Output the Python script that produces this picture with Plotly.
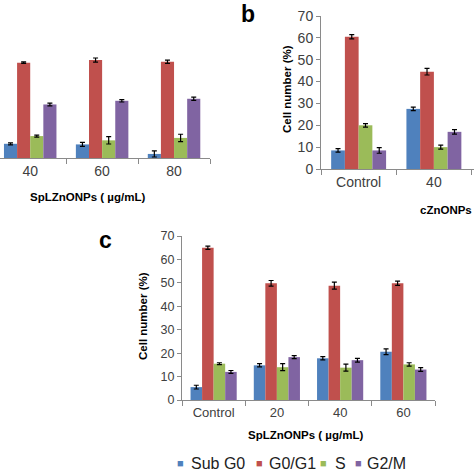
import plotly.graph_objects as go

phases = ["Sub G0", "G0/G1", "S", "G2/M"]
colors = ["#4F81BD", "#C0504D", "#9BBB59", "#8064A2"]

# Panel a (cropped, SpLZnONPs)
a_cats = ["40", "60", "80"]
a_vals = {"Sub G0": [7, 6.7, 2], "G0/G1": [47, 48.3, 47.4], "S": [10.8, 8.7, 9.9], "G2/M": [26.4, 28.2, 29.2]}
a_err = {"Sub G0": [0.5, 1, 1.5], "G0/G1": [0.4, 1, 0.8], "S": [0.5, 1.8, 1.8], "G2/M": [0.7, 0.6, 0.8]}

# Panel b (cZnONPs)
b_cats = ["Control", "40"]
b_vals = {"Sub G0": [8.5, 27.5], "G0/G1": [60.5, 44.5], "S": [20, 10], "G2/M": [8.5, 17]}
b_err = {"Sub G0": [0.8, 0.8], "G0/G1": [1, 1.5], "S": [0.8, 0.9], "G2/M": [1.3, 1]}

# Panel c (SpLZnONPs)
c_cats = ["Control", "20", "40", "60"]
c_vals = {"Sub G0": [5.5, 14.8, 17.8, 20.6], "G0/G1": [65, 49.8, 48.8, 49.8], "S": [15.5, 14, 13.8, 15.2], "G2/M": [12, 18.3, 17, 13]}
c_err = {"Sub G0": [0.8, 0.7, 0.7, 1.2], "G0/G1": [0.7, 1.2, 1.5, 0.9], "S": [0.4, 1.5, 1.5, 0.7], "G2/M": [0.6, 0.6, 0.8, 0.8]}

yticks = list(range(0, 80, 10))
FONT = "Liberation Sans, Arial, sans-serif"
W = H = 474

def px(x):
    return x / W

def py(y):
    return 1 - y / H

fig = go.Figure()
for panel, cats, vals, errs, xa, ya in [
    ("a", a_cats, a_vals, a_err, "x", "y"),
    ("b", b_cats, b_vals, b_err, "x2", "y2"),
    ("c", c_cats, c_vals, c_err, "x3", "y3"),
]:
    for ph, col in zip(phases, colors):
        fig.add_trace(go.Bar(
            x=cats, y=vals[ph], name=ph, marker=dict(color=col, line=dict(width=0)),
            error_y=dict(type="data", array=errs[ph], color="black", thickness=1.2, width=2.5),
            xaxis=xa, yaxis=ya, showlegend=False, offsetgroup=ph,
        ))

xcommon = dict(type="category", showline=True, linecolor="#8a8a8a", linewidth=1,
               ticks="outside", tickson="boundaries", ticklen=5, tickcolor="#8a8a8a",
               showgrid=False, zeroline=False, fixedrange=True, automargin=False,
               tickfont=dict(family=FONT, color="#404040"))
ycommon = dict(range=[0, 70], tickvals=yticks, showgrid=False, zeroline=False,
               showline=True, linecolor="#8a8a8a", linewidth=1, ticks="outside", automargin=False,
               ticklen=4, tickcolor="#8a8a8a", tickfont=dict(family=FONT, color="#404040"))

fig.update_layout(
    width=W, height=H, margin=dict(l=0, r=0, t=0, b=0, autoexpand=False),
    paper_bgcolor="white", plot_bgcolor="white",
    barmode="group", bargap=0.27, bargroupgap=0,
    font=dict(family=FONT, color="black"), showlegend=False,
    xaxis=dict(xcommon, domain=[0, px(210)], anchor="y", range=[-0.42, 2.5], tickfont=dict(family=FONT, size=14, color="#404040")),
    yaxis=dict(ycommon, domain=[py(158), py(16)], anchor="x", showline=False, showticklabels=False, ticks=""),
    xaxis2=dict(xcommon, domain=[px(321), 1], anchor="y2", range=[-0.5, 1.533], tickfont=dict(family=FONT, size=14, color="#404040")),
    yaxis2=dict(ycommon, domain=[py(169), py(16)], anchor="x2", tickfont=dict(family=FONT, size=14, color="#404040")),
    xaxis3=dict(xcommon, domain=[px(182), px(435)], anchor="y3", range=[-0.5, 3.5], tickfont=dict(family=FONT, size=13, color="#404040")),
    yaxis3=dict(ycommon, domain=[py(400), py(236)], anchor="x3", tickfont=dict(family=FONT, size=12.5, color="#404040")),
)

annots = [
    dict(text="<b>SpLZnONPs ( µg/mL)</b>", x=px(87), y=py(197), size=11.5),
    dict(text="<b>SpLZnONPs ( µg/mL)</b>", x=px(305), y=py(435), size=11.5),
    dict(text="<b>cZnONPs</b>", x=1.0, y=py(210), size=11.5, xanchor="right"),
    dict(text="<b>Cell number (%)</b>", x=px(287), y=py(89), size=11.5, textangle=-90),
    dict(text="<b>Cell number (%)</b>", x=px(143), y=py(316), size=11.5, textangle=-90),
    dict(text="<b>b</b>", x=px(248), y=py(14), size=23),
    dict(text="<b>c</b>", x=px(105), y=py(240), size=23),
]
# legend built from text (square glyph + label)
leg_sq_x = [180, 259, 323, 358]
leg_tx_x = [189, 267, 333, 365]
for ph, col, sx, tx in zip(phases, colors, leg_sq_x, leg_tx_x):
    annots.append(dict(text="■", x=px(sx), y=py(463), size=11, color=col))
    annots.append(dict(text=ph, x=px(tx), y=py(463), size=16, xanchor="left", color="#222"))

for a in annots:
    fig.add_annotation(text=a["text"], x=a["x"], y=a["y"], xref="paper", yref="paper",
                       showarrow=False, xanchor=a.get("xanchor", "center"), yanchor="middle",
                       textangle=a.get("textangle", 0),
                       font=dict(family=FONT, size=a["size"], color=a.get("color", "black")))

fig.write_html("out.html", config={"displayModeBar": False},
               post_script="document.body.style.margin='0';document.body.style.overflow='hidden';")
